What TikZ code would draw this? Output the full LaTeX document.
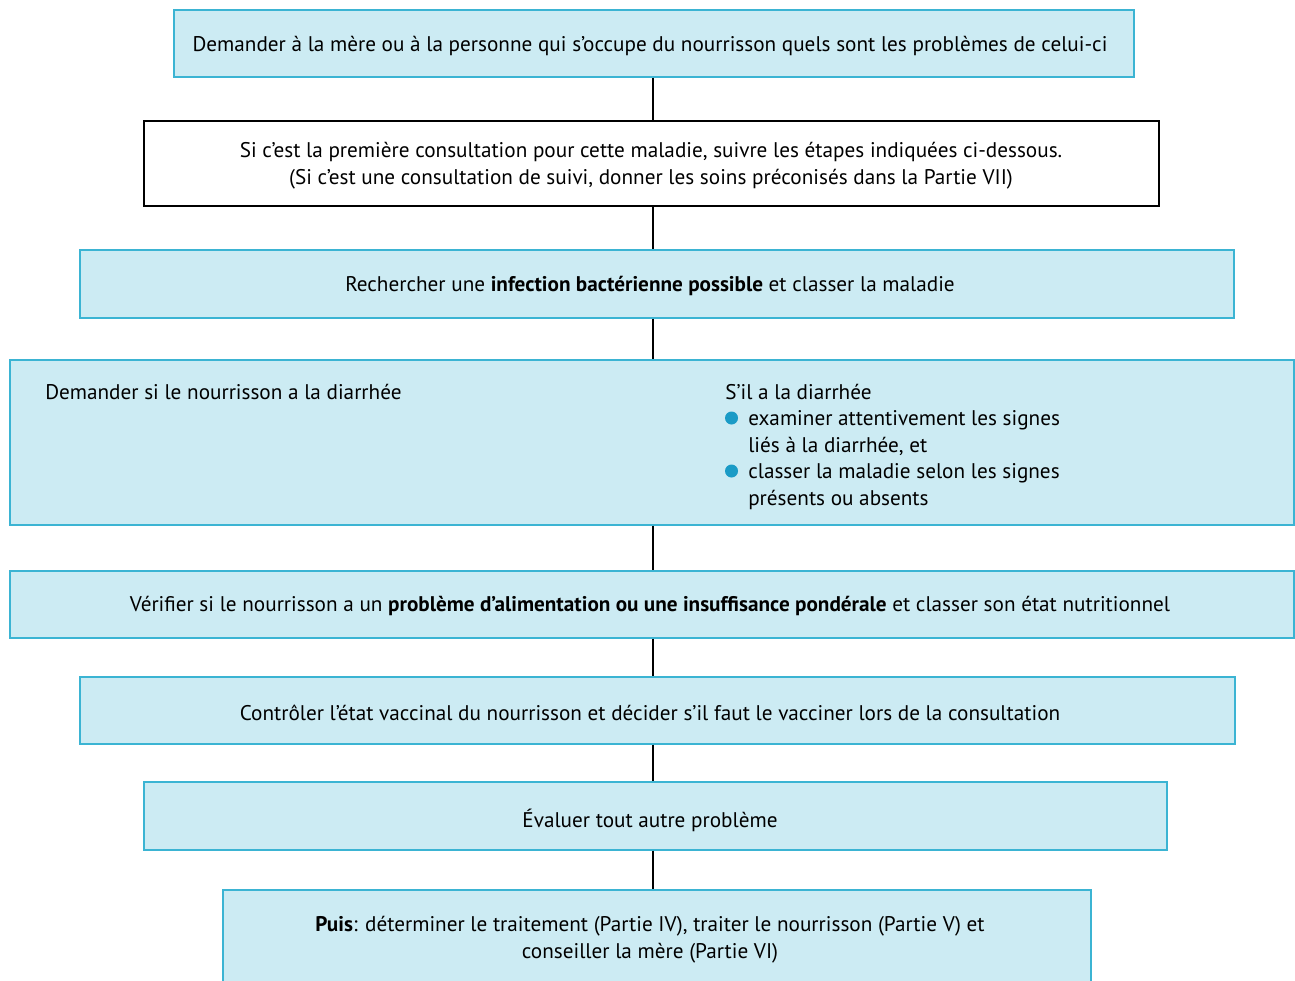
\documentclass[tikz,border=0pt]{standalone}
\usepackage{fontspec}
\setmainfont{PT Sans}
\usetikzlibrary{fit}
\definecolor{boxfill}{HTML}{CCEBF3}
\definecolor{boxline}{HTML}{3BB4D3}
\definecolor{bulletblue}{HTML}{1A9BC6}
\begin{document}
\begin{tikzpicture}[x=0.75pt,y=-0.75pt,
  stepbox/.style={draw=boxline,fill=boxfill,line width=1.1pt,inner sep=0pt},
  whitebox/.style={draw=black,fill=white,line width=0.9pt,inner sep=0pt},
  txt/.style={font=\fontsize{15.9}{20.25}\selectfont,inner sep=0pt,align=center},
  link/.style={line width=1.9pt,black}]
\useasboundingbox (0,0) rectangle (1295,981);
\clip (0,0) rectangle (1295,981);
% boxes
\node[stepbox,fit={(174,10)(1134,77)}] (b1) {};
\node[whitebox,fit={(144,121)(1159,206)}] (b2) {};
\node[stepbox,fit={(80,250)(1234,318)}] (b3) {};
\node[stepbox,fit={(10,360)(1294,525)}] (b4) {};
\node[stepbox,fit={(10,571)(1294,638)}] (b5) {};
\node[stepbox,fit={(80,677)(1235,744)}] (b6) {};
\node[stepbox,fit={(144,782)(1167,850)}] (b7) {};
\node[stepbox,fit={(223,890)(1091,1000)}] (b8) {};
% connectors
\foreach \a/\b in {b1/b2,b2/b3,b3/b4,b4/b5,b5/b6,b6/b7,b7/b8}
  \draw[link] (\a.south -| 653,0) -- (\b.north -| 653,0);
% texts
\node[txt] (t1) at (650,45.5) {Demander à la mère ou à la personne qui s’occupe du nourrisson quels sont les problèmes de celui-ci};
\node[txt] (t2) at (651,166) {Si c’est la première consultation pour cette maladie, suivre les étapes indiquées ci-dessous.\\(Si c’est une consultation de suivi, donner les soins préconisés dans la Partie VII)};
\node[txt] (t3) at (650,286) {Rechercher une \textbf{infection bactérienne possible} et classer la maladie};
\node[txt,anchor=west] (t4a) at (45,392) {Demander si le nourrisson a la diarrhée};
\node[txt,anchor=west] (t4b) at (725,392) {S’il a la diarrhée};
\node[txt,anchor=west,align=left] (t4c) at (748,433) {examiner attentivement les signes\\liés à la diarrhée, et};
\node[txt,anchor=west,align=left] (t4d) at (748,486.5) {classer la maladie selon les signes\\présents ou absents};
\fill[bulletblue] (731.5,418) circle (6.5);
\fill[bulletblue] (731.5,471) circle (6.5);
\node[txt] (t5) at (650,606) {Vérifier si le nourrisson a un \textbf{problème d’alimentation ou une insuffisance pondérale} et classer son état nutritionnel};
\node[txt] (t6) at (650,713) {Contrôler l’état vaccinal du nourrisson et décider s’il faut le vacciner lors de la consultation};
\node[txt] (t7) at (650,820) {Évaluer tout autre problème};
\node[txt] (t8) at (650,939.5) {\textbf{Puis}: déterminer le traitement (Partie IV), traiter le nourrisson (Partie V) et\\conseiller la mère (Partie VI)};
\end{tikzpicture}
\end{document}
